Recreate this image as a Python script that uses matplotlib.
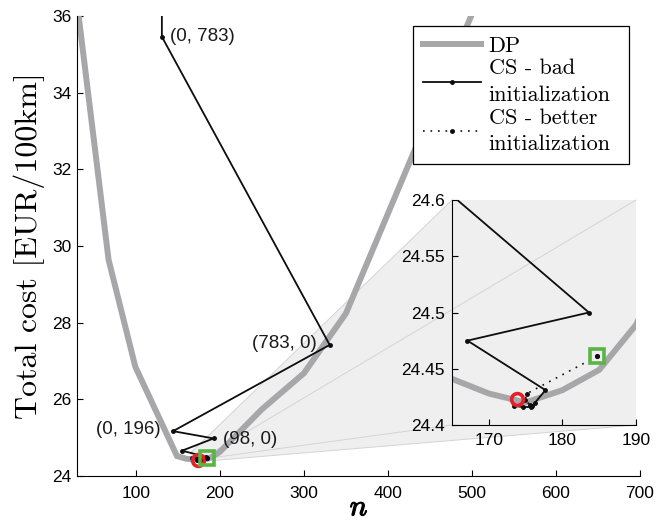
import matplotlib
matplotlib.use("Agg")
import matplotlib.pyplot as plt
import matplotlib.patheffects as pe
from matplotlib.patches import Polygon
from matplotlib.ticker import FuncFormatter

# DP reference: total cost over n
dp_n = [30, 67.6, 99.4, 149, 160, 165, 170, 175, 180, 185, 190, 200, 250, 300, 350, 500]
dp_cost = [36.35, 29.64, 26.85, 24.52, 24.45, 24.441, 24.428, 24.42, 24.431, 24.449,
           24.489, 24.63, 25.74, 26.68, 28.24, 36.05]

# coordinate search started from a bad initial point
bad_n = [131, 131, 330.7, 144.3, 192.6, 155, 183.6, 167.1, 177.7, 176.3, 175.7, 174.6, 173.4]
bad_cost = [38.0, 35.46, 27.42, 25.17, 24.98, 24.66, 24.50, 24.475, 24.431, 24.420,
            24.416, 24.416, 24.417]

# coordinate search started from a better initial point
better_n = [184.7, 175.2, 174.9, 175.6, 175.9]
better_cost = [24.461, 24.428, 24.422, 24.418, 24.417]

opt_n, opt_cost = 173.8, 24.423
start_n, start_cost = 184.7, 24.461

point_labels = ["(0, 783)", "(783, 0)", "(0, 196)", "(98, 0)"]
label_idx = [1, 2, 3, 4]
label_offsets = [(6, 0), (-9, 1), (-9, 1), (7, -1)]
label_ha = ["left", "right", "right", "left"]

zoom_x = (165, 190)
zoom_y = (24.4, 24.6)

dp_color = "#a7a7aa"
red = "#e5202a"
green = "#5bb446"
tick_font = "Liberation Sans"

W, H = 668, 523
fig = plt.figure(figsize=(W / 100, H / 100), dpi=100)
ax = fig.add_axes([77 / W, 1 - 476 / H, (640 - 77) / W, (476 - 16) / H])
axin = fig.add_axes([452 / W, 1 - 425 / H, 184 / W, 225 / H])


def draw_curves(a, labels=False):
    a.plot(dp_n, dp_cost, color=dp_color, lw=4.3, solid_joinstyle="miter",
           label="DP" if labels else None, zorder=2)
    a.plot(bad_n, bad_cost, color="#0d0d0d", lw=1.3, marker=".", ms=5,
           label="CS - bad\ninitialization" if labels else None, zorder=3)
    a.plot(better_n, better_cost, color="#0d0d0d", lw=1.2, ls=(0, (1, 3.5)),
           marker=".", ms=5,
           label="CS - better\ninitialization" if labels else None, zorder=3)
    a.plot(opt_n, opt_cost, marker="o", ms=8.5, mfc="none", mec=red, mew=2.6, zorder=4)
    a.plot(start_n, start_cost, marker="s", ms=10, mfc="none", mec=green, mew=2.6, zorder=4)
    a.plot(start_n, start_cost, marker=".", ms=5, color="#111111", zorder=5)


draw_curves(ax, labels=True)
ax.set_xlim(30, 700)
ax.set_ylim(24, 36)
ax.set_xticks([100, 200, 300, 400, 500, 600, 700])
ax.set_yticks([24, 26, 28, 30, 32, 34, 36])
for s in ["top", "right"]:
    ax.spines[s].set_visible(False)
ax.tick_params(direction="in", length=4, width=0.8, labelsize=12.5, pad=7)
ax.tick_params(axis="y", pad=4)
for t in ax.get_xticklabels() + ax.get_yticklabels():
    t.set_fontfamily(tick_font)

for txt, i, off, ha in zip(point_labels, label_idx, label_offsets, label_ha):
    ax.annotate(txt, (bad_n[i], bad_cost[i]), xytext=off, textcoords="offset points",
                ha=ha, va="center", fontsize=13.5, family=tick_font, color="#1a1a1a")

ax.set_ylabel("Total cost [EUR/100km]", family="cmr10", fontsize=23, labelpad=5)
ax.set_xlabel("n", family="cmmi10", fontsize=21, labelpad=-4,
              path_effects=[pe.withStroke(linewidth=0.9, foreground="black")])

# inset
draw_curves(axin)
axin.set_xlim(*zoom_x)
axin.set_ylim(*zoom_y)
axin.set_xticks([170, 180, 190])
axin.set_yticks([24.4, 24.45, 24.5, 24.55, 24.6])
axin.yaxis.set_major_formatter(FuncFormatter(lambda v, p: "%g" % round(v, 2)))
axin.set_facecolor("none")
for s in ["top", "right"]:
    axin.spines[s].set_visible(False)
axin.tick_params(direction="in", length=4, width=0.8, labelsize=12.5, pad=6)
axin.tick_params(axis="y", pad=5)
for t in axin.get_xticklabels() + axin.get_yticklabels():
    t.set_fontfamily(tick_font)

# shaded fan linking the zoom window to the inset
to_data = ax.transData.inverted()
def fig_pt(fx, fy):
    return to_data.transform(fig.transFigure.transform((fx, fy)))

b = axin.get_position()
in_tl = fig_pt(b.x0, b.y1)
in_tr = fig_pt(b.x1, b.y1)
in_br = fig_pt(b.x1, b.y0)
in_bl = fig_pt(b.x0, b.y0)
z_tl = (zoom_x[0], zoom_y[1])
z_tr = (zoom_x[1], zoom_y[1])
z_br = (zoom_x[1], zoom_y[0])
z_bl = (zoom_x[0], zoom_y[0])
fan = Polygon([z_tl, in_tl, in_tr, in_br, z_br, z_bl], closed=True,
              facecolor="#efefef", edgecolor="none", zorder=0.5)
ax.add_patch(fan)
for p, q in [(z_tl, in_tl), (z_tr, in_tr), (z_br, in_br), (z_bl, in_bl)]:
    ax.plot([p[0], q[0]], [p[1], q[1]], color="#d4d4d4", lw=0.7, zorder=0.6)

leg = ax.legend(loc="upper left", bbox_to_anchor=(413 / W, 1 - 26 / H),
                bbox_transform=fig.transFigure, borderaxespad=0, fancybox=False,
                edgecolor="black", framealpha=1, numpoints=1, handlelength=2.6,
                handletextpad=0.35, labelspacing=0.15, borderpad=0.45,
                prop={"family": "cmr10", "size": 16})
for t in leg.get_texts():
    t.set_linespacing(1.45)
    t.set_text(t.get_text().replace("\n", "   \n"))
leg.get_frame().set_linewidth(0.9)
leg.set_zorder(10)

fig.savefig("out.png", dpi=100)
